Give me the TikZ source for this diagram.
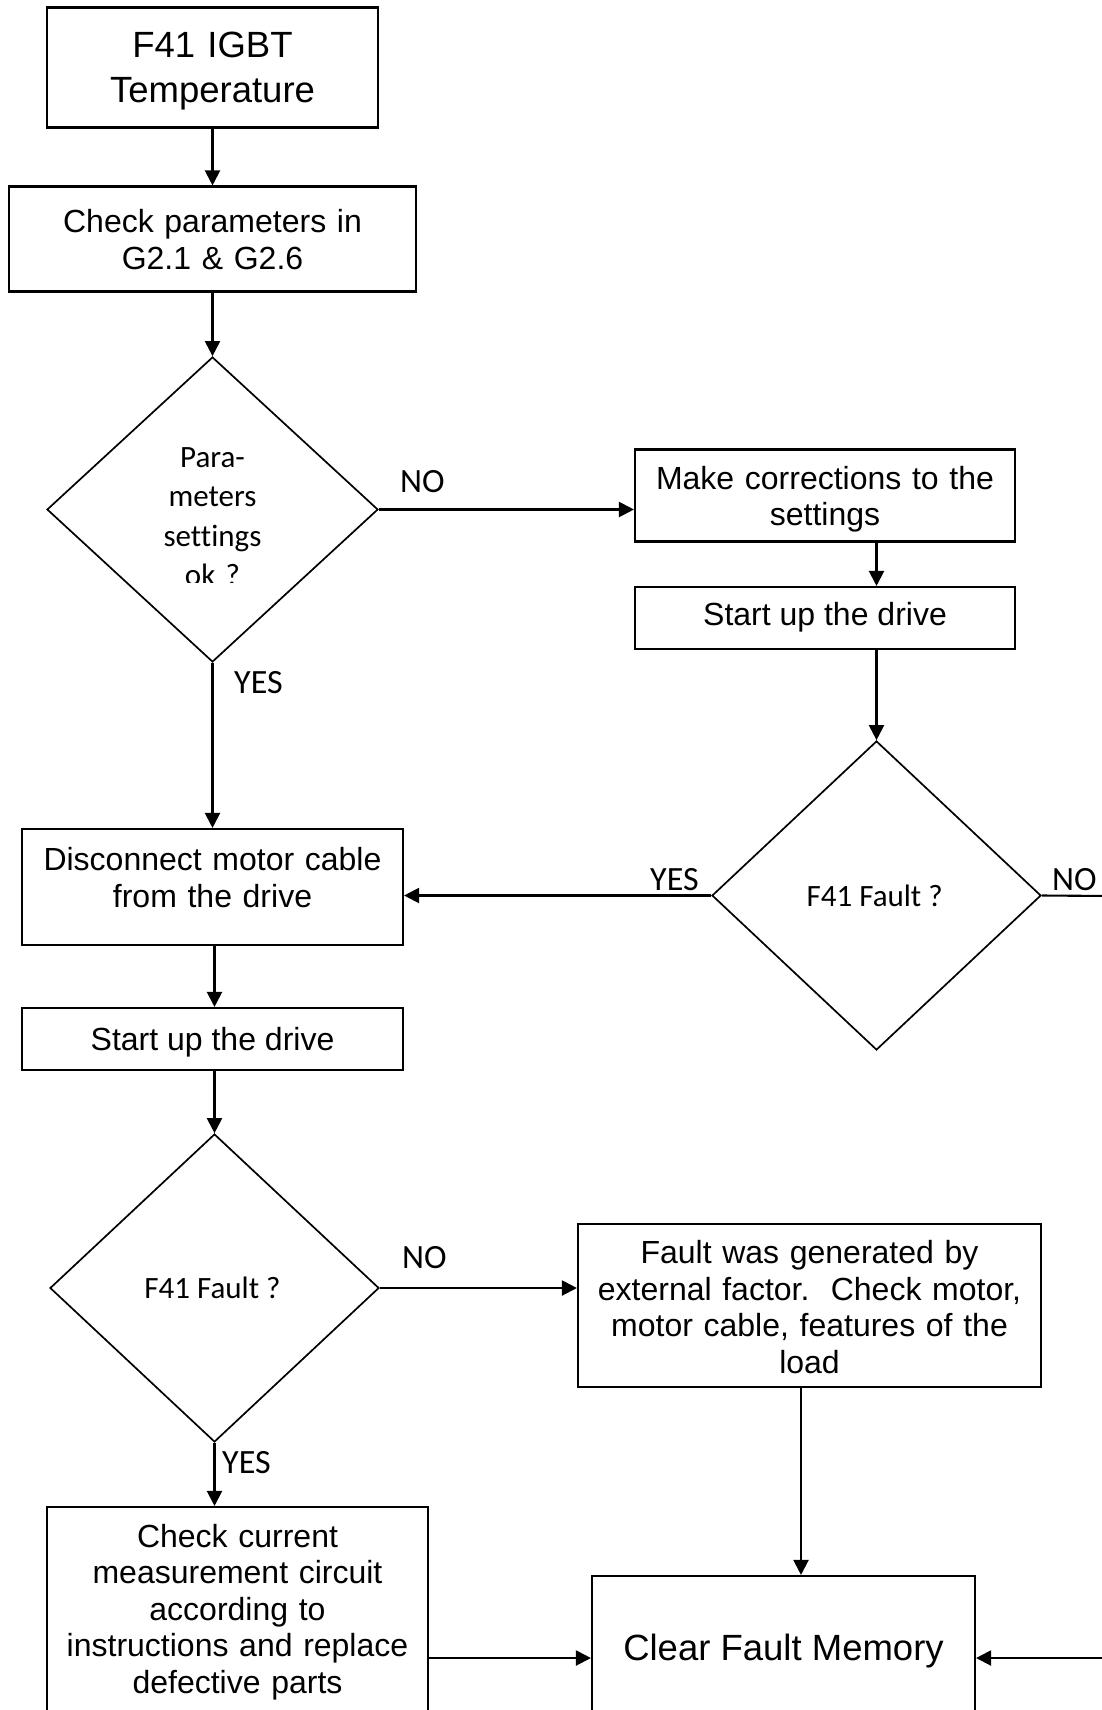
\documentclass[tikz,border=0pt]{standalone}
\usepackage{fontspec}
\setmainfont{Liberation Sans}
\newfontfamily\calfont[Ligatures=NoCommon]{Carlito}
\usetikzlibrary{shapes.geometric,arrows.meta,calc}
\begin{document}
\begin{tikzpicture}[x=1pt,y=-1pt,
  box/.style={draw,line width=2.1pt,rectangle,inner sep=0pt},
  dia/.style={draw,line width=1.7pt,diamond,inner sep=0pt},
  btxt/.style={font=\fontsize{32}{37}\selectfont,align=center,anchor=base,inner sep=0pt},
  bigtxt/.style={font=\fontsize{36.5}{44}\selectfont,align=center,anchor=base,inner sep=0pt},
  dtxt/.style={font=\calfont\fontsize{31}{39.5}\selectfont,align=center,anchor=base,inner sep=0pt},
  lbl/.style={font=\calfont\fontsize{34}{40}\selectfont,anchor=base west,inner sep=0pt},
  arr/.style={line width=2.1pt,-{Triangle[length=15pt,width=15pt]}},
  ln/.style={line width=2.1pt}]
\useasboundingbox (0,0) rectangle (1102,1710);
\clip (0,0) rectangle (1102,1710);

% boxes
\node[box,minimum width=331pt,minimum height=120pt] (A) at (212.5,67.5) {};
\node[bigtxt,text width=320pt] (At) at (212.5,58) {F41 IGBT\\Temperature};

\node[box,minimum width=407pt,minimum height=105pt] (B) at (212.5,239) {};
\node[btxt,text width=400pt] (Bt) at (212.5,232) {Check parameters in\\G2.1 \& G2.6};

\node[dia,minimum width=331pt,minimum height=305pt] (d1) at (212.5,509.5) {};
\begin{scope}
  \clip (80,420) rectangle (345,582);
  \node[dtxt,text width=200pt] (d1t) at (212.5,467) {Para-\\meters\\settings\\ok ?};
\end{scope}

\node[box,minimum width=380pt,minimum height=92pt] (C) at (825,495.5) {};
\node[btxt,text width=370pt,font=\fontsize{32}{36}\selectfont] (Ct) at (825,489) {Make corrections to the\\settings};

\node[box,minimum width=380pt,minimum height=62pt] (D) at (825,618) {};
\node[btxt] (Dt) at (825,625.7) {Start up the drive};

\node[dia,minimum width=329pt,minimum height=309pt] (d2) at (876.5,895.5) {};
\node[dtxt] (d2t) at (874.7,906) {F41 Fault ?};

\node[box,minimum width=381pt,minimum height=116pt] (E) at (212.5,887) {};
\node[btxt,text width=370pt] (Et) at (212.5,870) {Disconnect motor cable\\from the drive};

\node[box,minimum width=381pt,minimum height=62pt] (F) at (212.5,1039) {};
\node[btxt] (Ft) at (212.5,1050) {Start up the drive};

\node[dia,minimum width=329pt,minimum height=308pt] (d3) at (214.5,1288) {};
\node[dtxt] (d3t) at (212.5,1298) {F41 Fault ?};

\node[box,minimum width=463pt,minimum height=163pt] (G) at (809.5,1305.5) {};
\node[btxt,text width=455pt,font=\fontsize{32}{36.7}\selectfont] (Gt) at (809.5,1263.3) {Fault was generated by\\external factor.\ \ Check motor,\\motor cable, features of the\\load};

\node[box,minimum width=381pt,minimum height=293pt] (H) at (237.5,1653.5) {};
\node[btxt,text width=375pt,font=\fontsize{32}{36.5}\selectfont] (Ht) at (237.5,1547) {Check current\\measurement circuit\\according to\\instructions and replace\\defective parts};

\node[box,minimum width=383pt,minimum height=224pt] (I) at (783.5,1688) {};
\node[bigtxt] (It) at (783.5,1660) {Clear Fault Memory};

% labels
\node[lbl] (no1) at (400,492) {NO};
\node[lbl] (yes1) at (234,693) {YES};
\node[lbl] (yes2) at (650,890) {YES};
\node[lbl] (no2) at (1052,890) {NO};
\node[lbl] (no3) at (402,1268) {NO};
\node[lbl] (yes3) at (222,1473) {YES};

% off-page ends
\coordinate (r1) at (1110,896);
\coordinate (r2) at (1110,1658);
\coordinate (gx) at (801,0);

% connectors
\draw[arr] (A) -- (B);
\draw[arr] (B) -- (d1);
\draw[arr] (d1.east) -- (d1.east -| C.west);
\draw[arr] (d2.north |- C.south) -- (d2.north |- D.north);
\draw[arr] (d2.north |- D.south) -- (d2.north);
\draw[arr] (d2.west) -- (d2.west -| E.east);
\draw[ln] (d2.east) -- (r1);
\draw[arr] (d1.south) -- (E.north);
\draw[arr] (d3.north |- E.south) -- (d3.north |- F.north);
\draw[arr] (d3.north |- F.south) -- (d3.north);
\draw[arr] (d3.east) -- (d3.east -| G.west);
\draw[arr] (d3.south) -- (d3.south |- H.north);
\draw[arr] (gx |- G.south) -- (gx |- I.north);
\draw[arr] (H.east |- r2) -- (I.west |- r2);
\draw[arr] (r2) -- (I.east |- r2);
\end{tikzpicture}
\end{document}
